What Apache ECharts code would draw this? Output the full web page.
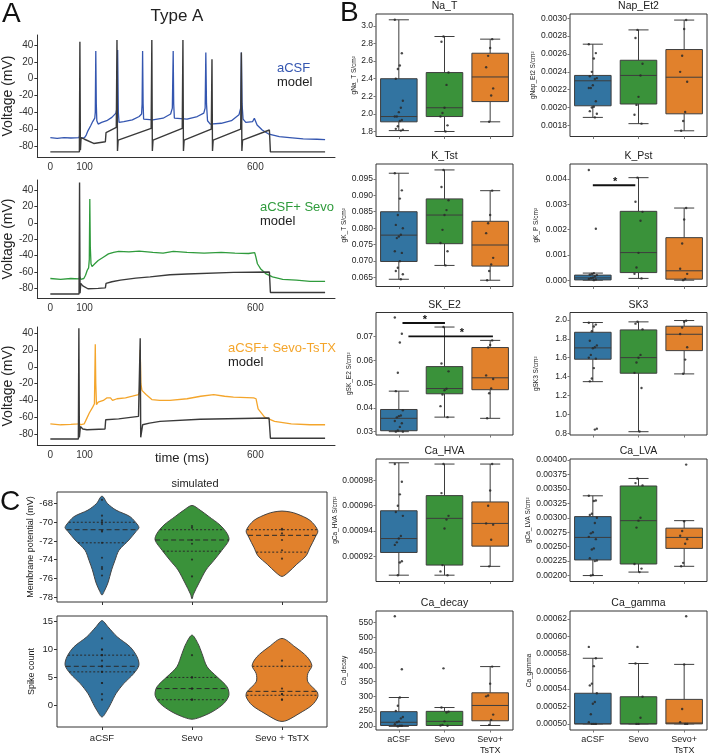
<!DOCTYPE html>
<html>
<head>
<meta charset="utf-8">
<script src="https://cdn.jsdelivr.net/npm/echarts@6/dist/echarts.min.js"></script>
<style>
html, body { margin: 0; padding: 0; background: #fff; }
#chart { width: 709px; height: 756px; }
</style>
</head>
<body>
<div id="chart"></div>
<script>
// ---------- panel A : voltage traces, [time ms, voltage mV] ----------
var acsfTrace = [[0,-70],[20,-71],[40,-70],[60,-70.5],[84,-70],[86,-67],[89,-71],[100,-70],[105,-67],[110,-62],[118,-56],[124,-51],[130,-47],[131.5,-40],[133,33],[134.5,-30],[136,-50],[140,-54],[150,-52],[165,-50],[180,-46],[192,-41],[195,-35],[197,34],[199,-40],[201,-52],[215,-51],[240,-49],[260,-45],[267,-42],[268.5,-30],[270,33],[271.5,-30],[273,-48],[278,-50],[300,-49],[330,-47],[352,-42],[357,-35],[359.5,33],[361,-30],[363,-47],[368,-49],[400,-48],[430,-45],[449,-41],[453,-35],[455,31],[457,-30],[460,-50],[468,-54],[500,-53],[530,-50],[552,-43],[557,-35],[559,31],[561,-30],[564,-48],[572,-52],[592,-51],[597,-47],[601,-47],[605,-55],[620,-61],[640,-66],[670,-69],[700,-70],[740,-71.5],[780,-72],[804,-72.5]];
var acsfModel = [[0,-87],[85,-87],[86.5,44],[88,-85],[90,-70],[100,-72],[127,-77],[161,-75],[163,-64],[193,-58],[195,46],[196.5,-86],[198.5,-73],[295,-59],[297,46],[298.5,-86],[300.5,-73],[386,-59],[388,46],[389.5,-86],[391.5,-73],[471,-60],[473,23],[474.5,-86],[476.5,-73],[557,-60],[559,31],[560.5,-86],[562.5,-73],[641,-61],[644,-87],[804,-87]];
var sevoTrace = [[0,-68],[30,-69],[60,-68],[84,-68.5],[86,-66],[89,-69],[98,-68],[103,-64],[108,-58],[112,-55],[114,-45],[115.5,29],[117,-30],[119,-50],[122,-53.5],[130,-50],[140,-46],[155,-42],[170,-38],[185,-36],[200,-35],[230,-35.5],[260,-34.5],[300,-36],[330,-37],[360,-35],[400,-36],[450,-37],[500,-36],[540,-37],[580,-37.5],[598,-36.5],[601,-41],[606,-50],[615,-56],[630,-62],[650,-66],[680,-69],[720,-70],[760,-71.5],[804,-71.5]];
var sevoModel = [[0,-87],[84,-87],[85.5,49],[87,-86],[89,-74],[95,-77],[110,-80.5],[140,-80],[161,-79.5],[163,-74],[180,-72],[205,-70],[250,-67.5],[292,-66],[350,-63.5],[400,-62.5],[536,-60.5],[641,-60],[644,-85],[804,-85]];
var tstxTrace = [[0,-68],[30,-69],[60,-68.5],[82,-68],[84,-65],[87,-69],[99,-68],[106,-62],[114,-55],[124,-48],[129,-44],[131.5,27],[133,-20],[135,-45],[140,-42],[155,-40],[165,-37],[170,-35],[176,-37],[182,-40],[195,-38],[220,-37],[240,-35],[258,-33],[261,-30],[263,20],[265,-20],[268,-28],[280,-33],[297,-39],[320,-40],[350,-40],[400,-38],[440,-35],[478,-33],[510,-35],[536,-36],[595,-37],[602,-38],[608,-50],[627,-60],[656,-65],[705,-68],[760,-69],[804,-69]];
var tstxModel = [[0,-86],[82,-86],[83.5,46],[85,-84],[88,-71],[95,-74],[107,-75],[160,-74],[162,-63],[200,-62],[258,-59],[261.5,-58],[263,34],[264.5,-84],[270,-69],[290,-67],[321,-65],[438,-62.5],[640,-61],[644,-85],[804,-85]];
var timeTicks = [0, 100, 600];
var voltTicks = [-80, -60, -40, -20, 0, 20, 40];

// ---------- panel C : violins ----------
var violinGroups = ['aCSF', 'Sevo', 'Sevo + TsTX'];
// [value, relative half width]
var mpDensity = [
  [[-67.2,0],[-68.0,0.15],[-68.7,0.38],[-69.4,0.76],[-70.3,0.97],[-70.6,1.0],[-71.0,0.92],[-71.9,0.73],[-73.0,0.46],[-74.1,0.35],[-75.1,0.26],[-76.5,0.16],[-77.4,0.06],[-77.8,0]],
  [[-68.2,0],[-68.7,0.22],[-69.4,0.46],[-70.3,0.76],[-71.2,0.95],[-71.9,1.0],[-73.0,0.81],[-74.1,0.59],[-75.1,0.38],[-76.5,0.19],[-77.7,0.04],[-78.2,0]],
  [[-68.8,0],[-68.9,0.22],[-69.1,0.4],[-69.8,0.76],[-70.9,0.97],[-71.6,0.9],[-72.7,0.76],[-73.6,0.65],[-74.5,0.4],[-75.4,0.16],[-75.8,0]]
];
var mpQuartiles = [[-70.0,-70.8,-72.2],[-70.8,-71.9,-73.1],[-70.8,-71.4,-73.2]];
var mpPoints = [[-67.6,-69.3,-69.8,-70.0,-70.2,-70.9,-71.0,-72.2,-73.8,-74.8,-75.0,-75.7],[-70.4,-70.6,-71.9,-72.3,-74.0,-75.8],[-70.7,-70.8,-71.2,-71.9,-73.0,-73.9]];
var mpTicks = [-78, -76, -74, -72, -70, -68];
var spikeDensity = [
  [[15.2,0],[14.1,0.16],[12.3,0.41],[10.5,0.76],[8.7,0.95],[7.2,1.0],[5.7,0.86],[3.9,0.59],[2.1,0.38],[0.3,0.24],[-0.9,0.14],[-2.1,0]],
  [[12.6,0],[11.1,0.16],[9.3,0.27],[6.9,0.41],[5.1,0.68],[3.3,0.95],[1.8,1.0],[0.3,0.86],[-1.2,0.54],[-2.2,0.2],[-2.5,0]],
  [[12.0,0],[10.5,0.35],[8.7,0.68],[7.1,0.81],[5.7,0.7],[4.2,0.7],[2.4,0.95],[1.5,0.97],[0.0,0.81],[-1.5,0.46],[-2.7,0.14],[-2.9,0]]
];
var spikeQuartiles = [[9,7,6],[5,3,1],[7,2.5,1.8]];
var spikePoints = [[12,10,10,9,9,8,7,7,6,6,4,4,2,1],[9,5,5,3,3,1,1],[8,7,3,2,2,1,1]];
var spikeTicks = [0, 5, 10, 15];

// ---------- panel B : box plots, [min, q1, median, q3, max] ----------
var boxGroups = ['aCSF', 'Sevo', 'Sevo+\nTsTX'];
var naTBox = [[1.81,1.91,1.97,2.40,3.07],[1.80,1.97,2.07,2.47,2.88],[1.91,2.14,2.42,2.69,2.85]];
var naTPts = [[3.07,2.69,2.55,2.51,2.40,2.15,2.07,2.02,1.97,1.97,1.93,1.92,1.86,1.83,1.82,1.81],[2.88,2.82,2.47,2.33,2.07,2.01,1.97,1.87,1.80],[2.85,2.75,2.66,2.53,2.29,2.21,1.91]];
var naTTicks = [1.8,2.0,2.2,2.4,2.6,2.8,3.0];

var napBox = [[0.00189,0.00202,0.00230,0.00236,0.00271],[0.00182,0.00204,0.00236,0.00253,0.00287],[0.00174,0.00193,0.00234,0.00265,0.00298]];
var napPts = [[0.00271,0.00261,0.00255,0.00240,0.00235,0.00233,0.00232,0.00225,0.00222,0.00222,0.00207,0.00201,0.00200,0.00196,0.00193,0.00189],[0.00287,0.00278,0.00249,0.00236,0.00212,0.00203,0.00192,0.00182],[0.00298,0.00288,0.00258,0.00240,0.00229,0.00195,0.00185,0.00174]];
var napTicks = [0.0018,0.0020,0.0022,0.0024,0.0026,0.0028,0.0030];

var ktBox = [[0.0645,0.0699,0.0779,0.0850,0.0967],[0.0687,0.0753,0.0840,0.0889,0.0977],[0.0642,0.0685,0.0749,0.0821,0.0914]];
var ktPts = [[0.0967,0.0915,0.0890,0.0840,0.0810,0.0800,0.0780,0.0775,0.0770,0.0730,0.0725,0.0700,0.0680,0.0670,0.0660,0.0645],[0.0977,0.0925,0.0885,0.0855,0.0840,0.0795,0.0755,0.0730,0.0687],[0.0914,0.0840,0.0815,0.0785,0.0710,0.0690,0.0670,0.0642]];
var ktTicks = [0.065,0.070,0.075,0.080,0.085,0.090,0.095];

var kpBox = [[0,0.00001,0.00009,0.00020,0.00028],[0.00007,0.00030,0.00109,0.00272,0.00405],[0,0.00004,0.00037,0.00168,0.00285]];
var kpPts = [[0.00435,0.00203,0.00028,0.00025,0.00022,0.00020,0.00015,0.00010,0.00008,0.00005,0.00003,0],[0.00405,0.00310,0.00270,0.00235,0.00108,0.00050,0.00025,0.00007],[0.00285,0.00240,0.00145,0.00045,0.00025,0.00005,0]];
var kpTicks = [0,0.001,0.002,0.003,0.004];
var kpSig = [[0, 0.93, 0.00375, 0.49]];

var skBox = [[0.0300,0.0304,0.0356,0.0393,0.0470],[0.0361,0.0459,0.0481,0.0573,0.0739],[0.0356,0.0476,0.0526,0.0653,0.0683]];
var skPts = [[0.0779,0.0711,0.0674,0.0547,0.0470,0.0390,0.0368,0.0365,0.0360,0.0345,0.0335,0.0320,0.0305,0.0300,0.0300],[0.0739,0.0586,0.0553,0.0480,0.0474,0.0456,0.0407,0.0361],[0.0683,0.0664,0.0653,0.0536,0.0521,0.0481,0.0461,0.0356]];
var skTicks = [0.03,0.04,0.05,0.06,0.07];
var skSig = [[0.08, 1.01, 0.0756, 0.57], [0.21, 2.06, 0.0700, 1.38]];

var sk3Box = [[1.347,1.584,1.704,1.869,1.972],[0.818,1.436,1.601,1.894,1.979],[1.429,1.675,1.848,1.933,1.993]];
var sk3Pts = [[1.97,1.95,1.93,1.88,1.78,1.73,1.71,1.70,1.63,1.60,1.59,1.49,1.38,1.35,0.85,0.84],[1.98,1.96,1.90,1.63,1.60,1.55,1.44,1.28,0.82],[1.99,1.98,1.92,1.85,1.71,1.58,1.43]];
var sk3Ticks = [0.8,1.0,1.2,1.4,1.6,1.8,2.0];

var hvaBox = [[0.000905,0.000923,0.000934,0.000956,0.000994],[0.000905,0.000913,0.000950,0.000968,0.000993],[0.000912,0.000928,0.000946,0.000963,0.000993]];
var hvaPts = [[0.000993,0.000979,0.000969,0.000960,0.000955,0.000952,0.000936,0.000934,0.000931,0.000929,0.000916,0.000915,0.000905],[0.000993,0.000970,0.000952,0.000949,0.000942,0.000913,0.000908,0.000905],[0.000993,0.000972,0.000960,0.000946,0.000945,0.000933,0.000912]];
var hvaTicks = [0.00092,0.00094,0.00096,0.00098];

var lvaBox = [[0.00200,0.00227,0.00266,0.00302,0.00338],[0.00206,0.00220,0.00295,0.00355,0.00368],[0.00216,0.00247,0.00266,0.00282,0.00295]];
var lvaPts = [[0.00338,0.00330,0.00329,0.00307,0.00305,0.00300,0.00291,0.00275,0.00273,0.00267,0.00263,0.00247,0.00245,0.00230,0.00226,0.00225,0.00201,0.00200],[0.00368,0.00360,0.00356,0.00300,0.00295,0.00283,0.00220,0.00212,0.00206],[0.00392,0.00294,0.00277,0.00269,0.00263,0.00255,0.00222,0.00216]];
var lvaTicks = [0.002,0.00225,0.0025,0.00275,0.003,0.00325,0.0035,0.00375,0.004];

var decayBox = [[198,201,212,248,296],[201,201,215,249,262],[201,217,269,312,401]];
var decayPts = [[572,392,296,268,250,230,225,215,212,205,200,200,198],[395,262,248,245,215,203,201,200],[401,343,303,300,238,220,203]];
var decayTicks = [200,250,300,350,400,450,500,550];

var gammaBox = [[0.0005,0.0005,0.0005,0.000535,0.000575],[0.0005,0.0005,0.0005,0.000531,0.000569],[0.0005,0.0005,0.000501,0.000528,0.000568]];
var gammaPts = [[0.000588,0.000575,0.000566,0.000546,0.000544,0.000535,0.000525,0.000523,0.000511,0.000502,0.0005,0.0005,0.0005],[0.000588,0.000569,0.000531,0.000507,0.0005,0.0005],[0.000623,0.000568,0.000517,0.000502,0.0005,0.0005]];
var gammaTicks = [0.0005,0.00052,0.00054,0.00056,0.00058,0.0006,0.00062];

// ---------- styling ----------
var FONT = '"Liberation Sans", Arial, Helvetica, sans-serif';
var INK = '#333';
var EDGE = '#3d3d3d';
var groupColors = ['#3274a1', '#3a923a', '#e1812c'];

var grids = [], xAxes = [], yAxes = [], series = [], texts = [];

function txt(s, x, y, size, color, extra) {
	var el = {
		type: 'text', x: x, y: y, z: 100,
		style: { text: s, fill: color || '#222', font: size + 'px ' + FONT, align: 'center', verticalAlign: 'middle' }
	};
	if (extra) for (var k in extra) el.style[k] = extra[k];
	texts.push(el);
}

// ---------- panel A ----------
var traces = [
	{ top: 35, height: 122, ymin: -93.1, ymax: 51.9, data: acsfTrace, model: acsfModel, color: '#3456b0', label: 'aCSF', lx: 277, ly: 68 },
	{ top: 180, height: 118, ymin: -91.8, ymax: 52.2, data: sevoTrace, model: sevoModel, color: '#2f9b3c', label: 'aCSF+ Sevo', lx: 260, ly: 207 },
	{ top: 327, height: 118, ymin: -93.1, ymax: 47.5, data: tstxTrace, model: tstxModel, color: '#f4a52b', label: 'aCSF+ Sevo-TsTX', lx: 228, ly: 348 }
];

traces.forEach(function(t, i) {
	var g = grids.length;
	grids.push({ left: 37, top: t.top, width: 298, height: t.height });
	xAxes.push({
		gridIndex: g, type: 'value', min: -38, max: 833,
		axisLine: { show: true, onZero: false, lineStyle: { color: INK, width: 1 } },
		axisTick: { show: false },
		axisLabel: { customValues: timeTicks, fontSize: 10, color: INK, margin: 5, fontFamily: FONT },
		splitLine: { show: false }
	});
	yAxes.push({
		gridIndex: g, type: 'value', min: t.ymin, max: t.ymax,
		axisLine: { show: true, onZero: false, lineStyle: { color: INK, width: 1 } },
		axisTick: { show: true, customValues: voltTicks, length: 3, lineStyle: { color: INK } },
		axisLabel: { customValues: voltTicks, fontSize: 10, color: INK, margin: 4, fontFamily: FONT },
		splitLine: { show: false },
		name: 'Voltage (mV)', nameLocation: 'middle', nameGap: 20,
		nameTextStyle: { fontSize: 14, color: '#222', fontFamily: FONT }
	});
	series.push({
		type: 'line', xAxisIndex: g, yAxisIndex: g, data: t.data, showSymbol: false,
		lineStyle: { color: t.color, width: 1.3 }, z: 2
	});
	series.push({
		type: 'line', xAxisIndex: g, yAxisIndex: g, data: t.model, showSymbol: false,
		lineStyle: { color: '#3a3a3a', width: 1.4 }, z: 3
	});
	txt(t.label, t.lx, t.ly, 13, t.color, { align: 'left' });
	txt('model', t.lx, t.ly + 14.5, 13, '#222', { align: 'left' });
});

txt('A', 2, 14, 28, '#111', { align: 'left' });
txt('Type A', 177, 16, 17, '#222');
txt('time (ms)', 182, 458, 13, '#222');

// ---------- panel C ----------
function interp(prof, v) {
	for (var i = 0; i < prof.length - 1; i++) {
		var a = prof[i], b = prof[i + 1];
		if (v <= a[0] && v >= b[0]) {
			return a[1] + (b[1] - a[1]) * (a[0] - v) / (a[0] - b[0]);
		}
	}
	return 0;
}

function violinRender(dens, quart) {
	return function(params, api) {
		var c = params.dataIndex;
		var prof = dens[c];
		var sc = api.size([1, 0])[0] * 0.41;
		var cx = api.coord([c, prof[0][0]])[0];
		var pts = prof.map(function(p) { return [cx + p[1] * sc, api.coord([c, p[0]])[1]]; });
		var left = prof.slice(1, -1).reverse().map(function(p) { return [cx - p[1] * sc, api.coord([c, p[0]])[1]]; });
		var kids = [{
			type: 'polygon', shape: { points: pts.concat(left), smooth: 0.3 },
			style: { fill: groupColors[c], stroke: '#444', lineWidth: 1 }
		}];
		quart[c].forEach(function(q, k) {
			var w = interp(prof, q) * sc;
			var y = api.coord([c, q])[1];
			kids.push({
				type: 'line', shape: { x1: cx - w, y1: y, x2: cx + w, y2: y },
				style: { stroke: '#2a2a2a', lineWidth: 1, lineDash: k === 1 ? [5, 3] : [2, 2] }
			});
		});
		return { type: 'group', children: kids };
	};
}

var violins = [
	{ top: 492, height: 110, min: -78.54, max: -66.76, dens: mpDensity, quart: mpQuartiles, pts: mpPoints, ticks: mpTicks, name: 'Membrane potential (mV)', labels: false },
	{ top: 616, height: 111, min: -3.9, max: 16.03, dens: spikeDensity, quart: spikeQuartiles, pts: spikePoints, ticks: spikeTicks, name: 'Spike count', labels: true }
];

violins.forEach(function(v) {
	var g = grids.length;
	grids.push({ left: 57, top: v.top, width: 270, height: v.height, show: true, borderColor: INK, borderWidth: 1 });
	xAxes.push({
		gridIndex: g, type: 'value', min: -0.5, max: 2.5,
		axisLine: { show: false, onZero: false },
		axisTick: { show: true, customValues: [0, 1, 2], length: 3, lineStyle: { color: INK } },
		axisLabel: {
			show: v.labels, customValues: [0, 1, 2], fontSize: 9.5, color: '#222', margin: 6, fontFamily: FONT,
			formatter: function(val) { return violinGroups[Math.round(val)]; }
		},
		splitLine: { show: false }
	});
	yAxes.push({
		gridIndex: g, type: 'value', min: v.min, max: v.max,
		axisLine: { show: false, onZero: false },
		axisTick: { show: true, customValues: v.ticks, length: 3, lineStyle: { color: INK } },
		axisLabel: { customValues: v.ticks, fontSize: 9.5, color: '#222', margin: 4, fontFamily: FONT },
		splitLine: { show: false },
		name: v.name, nameLocation: 'middle', nameGap: 21,
		nameTextStyle: { fontSize: 9, color: '#222', fontFamily: FONT }
	});
	series.push({
		type: 'custom', xAxisIndex: g, yAxisIndex: g, data: [[0], [1], [2]],
		renderItem: violinRender(v.dens, v.quart), z: 2
	});
	var dots = [];
	v.pts.forEach(function(arr, c) { arr.forEach(function(val) { dots.push([c, val]); }); });
	series.push({
		type: 'scatter', xAxisIndex: g, yAxisIndex: g, data: dots, symbolSize: 2.2,
		itemStyle: { color: '#222' }, z: 4
	});
});

txt('C', 0, 502, 28, '#111', { align: 'left' });
txt('simulated', 195, 484, 11, '#222');

// ---------- panel B ----------
var bPanels = [
	{ title: 'Na_T', yName: 'gNa_T S/cm\u00b2', box: naTBox, pts: naTPts, ticks: naTTicks, dec: 1, min: 1.743, max: 3.136, col: 0, row: 0, gap: 16 },
	{ title: 'Nap_Et2', yName: 'gNap_Et2 S/cm\u00b2', box: napBox, pts: napPts, ticks: napTicks, dec: 4, min: 0.001676, max: 0.003048, col: 1, row: 0, gap: 29 },
	{ title: 'K_Tst', yName: 'gK_T S/cm\u00b2', box: ktBox, pts: ktPts, ticks: ktTicks, dec: 3, min: 0.0623, max: 0.0995, col: 0, row: 1, gap: 23 },
	{ title: 'K_Pst', yName: 'gK_P S/cm\u00b2', box: kpBox, pts: kpPts, ticks: kpTicks, dec: 3, min: -0.00025, max: 0.00459, col: 1, row: 1, gap: 30, sig: kpSig },
	{ title: 'SK_E2', yName: 'gSK_E2 S/cm\u00b2', box: skBox, pts: skPts, ticks: skTicks, dec: 2, min: 0.0286, max: 0.0800, col: 0, row: 2, gap: 21, sig: skSig },
	{ title: 'SK3', yName: 'gSK3 S/cm\u00b2', box: sk3Box, pts: sk3Pts, ticks: sk3Ticks, dec: 1, min: 0.783, max: 2.078, col: 1, row: 2, gap: 30 },
	{ title: 'Ca_HVA', yName: 'gCa_HVA S/cm\u00b2', box: hvaBox, pts: hvaPts, ticks: hvaTicks, dec: 5, min: 0.0009, max: 0.000997, col: 0, row: 3, gap: 30 },
	{ title: 'Ca_LVA', yName: 'gCa_LVA S/cm\u00b2', box: lvaBox, pts: lvaPts, ticks: lvaTicks, dec: 5, min: 0.001897, max: 0.004017, col: 1, row: 3, gap: 38 },
	{ title: 'Ca_decay', yName: 'Ca_decay', box: decayBox, pts: decayPts, ticks: decayTicks, dec: 0, min: 185.7, max: 589.7, col: 0, row: 4, gap: 28 },
	{ title: 'Ca_gamma', yName: 'Ca_gamma', box: gammaBox, pts: gammaPts, ticks: gammaTicks, dec: 5, min: 0.000493, max: 0.000629, col: 1, row: 4, gap: 37 }
];
var colLeft = [376, 570];
var rowTop = [14, 164, 312.5, 459, 611];

function boxRender(params, api) {
	var c = api.value(0);
	var lo = api.coord([c, api.value(1)]);
	var q1 = api.coord([c, api.value(2)]);
	var md = api.coord([c, api.value(3)]);
	var q3 = api.coord([c, api.value(4)]);
	var hi = api.coord([c, api.value(5)]);
	var hw = api.size([1, 0])[0] * 0.4;
	var cw = hw * 0.55;
	var x = lo[0];
	function ln(x1, y1, x2, y2) {
		return { type: 'line', shape: { x1: x1, y1: y1, x2: x2, y2: y2 }, style: { stroke: EDGE, lineWidth: 1 } };
	}
	return {
		type: 'group', children: [
			ln(x, lo[1], x, q1[1]),
			ln(x, q3[1], x, hi[1]),
			ln(x - cw, lo[1], x + cw, lo[1]),
			ln(x - cw, hi[1], x + cw, hi[1]),
			{ type: 'rect', shape: { x: x - hw, y: q3[1], width: 2 * hw, height: Math.max(q1[1] - q3[1], 0.5) },
				style: { fill: groupColors[c], stroke: EDGE, lineWidth: 1 } },
			ln(x - hw, md[1], x + hw, md[1])
		]
	};
}

function sigRender(params, api) {
	var a = api.coord([api.value(0), api.value(2)]);
	var b = api.coord([api.value(1), api.value(2)]);
	var s = api.coord([api.value(3), api.value(2)]);
	return {
		type: 'group', children: [
			{ type: 'line', shape: { x1: a[0], y1: a[1], x2: b[0], y2: b[1] }, style: { stroke: '#111', lineWidth: 1.8 } },
			{ type: 'text', x: s[0], y: s[1] - 3, style: { text: '*', font: 'bold 11px ' + FONT, fill: '#111', align: 'center', verticalAlign: 'middle' } }
		]
	};
}

function jitter(i) {
	return (((i * 7) % 9) - 4) * 0.022;
}

bPanels.forEach(function(p) {
	var g = grids.length;
	var left = colLeft[p.col], top = rowTop[p.row];
	var bottomRow = p.row === 4;
	grids.push({ left: left, top: top, width: 137, height: 122.5, show: true, borderColor: INK, borderWidth: 1 });
	xAxes.push({
		gridIndex: g, type: 'value', min: -0.5, max: 2.5,
		axisLine: { show: false, onZero: false },
		axisTick: { show: true, customValues: [0, 1, 2], length: 2.5, lineStyle: { color: '#777' } },
		axisLabel: {
			show: bottomRow, customValues: [0, 1, 2], fontSize: 9, lineHeight: 11, color: '#222', margin: 4, fontFamily: FONT,
			formatter: function(val) { return boxGroups[Math.round(val)]; }
		},
		splitLine: { show: false }
	});
	(function(dec) {
		yAxes.push({
			gridIndex: g, type: 'value', min: p.min, max: p.max,
			axisLine: { show: false, onZero: false },
			axisTick: { show: true, customValues: p.ticks, length: 2.5, lineStyle: { color: '#777' } },
			axisLabel: {
				customValues: p.ticks, fontSize: 8.5, color: '#222', margin: 3, fontFamily: FONT,
				formatter: function(val) { return Number(val).toFixed(dec); }
			},
			splitLine: { show: false },
			name: p.yName, nameLocation: 'middle', nameGap: p.gap,
			nameTextStyle: { fontSize: 6.5, color: '#222', fontFamily: FONT }
		});
	})(p.dec);
	series.push({
		type: 'custom', xAxisIndex: g, yAxisIndex: g,
		data: p.box.map(function(b, i) { return [i].concat(b); }),
		encode: { x: 0, y: [1, 2, 3, 4, 5] },
		renderItem: boxRender, z: 2
	});
	var dots = [];
	p.pts.forEach(function(arr, c) {
		arr.forEach(function(val, i) { dots.push([c + jitter(i + c * 3), val]); });
	});
	series.push({
		type: 'scatter', xAxisIndex: g, yAxisIndex: g, data: dots, symbolSize: 2.4,
		itemStyle: { color: '#2a2a2a', opacity: 0.85 }, z: 4
	});
	if (p.sig) {
		series.push({
			type: 'custom', xAxisIndex: g, yAxisIndex: g, data: p.sig,
			encode: { x: [0, 1], y: 2 },
			renderItem: sigRender, z: 5
		});
	}
	txt(p.title, left + 68.5, top - 7.5, 10.5, '#222');
});

txt('B', 340, 13, 28, '#111', { align: 'left' });

var chart = echarts.init(document.getElementById('chart'));
chart.setOption({
	animation: false,
	backgroundColor: '#fff',
	textStyle: { fontFamily: FONT },
	grid: grids,
	xAxis: xAxes,
	yAxis: yAxes,
	series: series,
	graphic: texts
});
</script>
</body>
</html>
